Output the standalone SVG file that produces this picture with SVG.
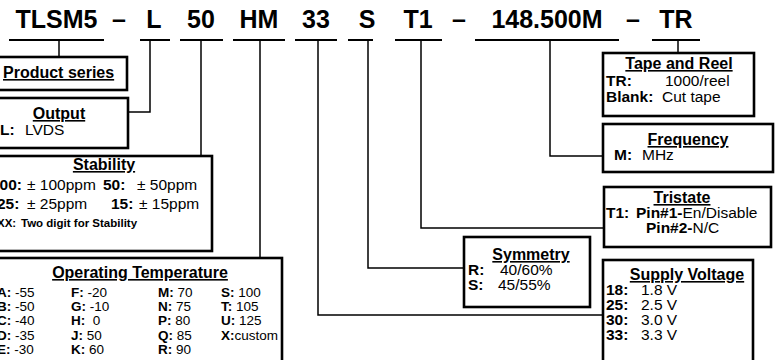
<svg xmlns="http://www.w3.org/2000/svg" width="783" height="360" viewBox="0 0 783 360">
<style>
text{font-family:"Liberation Sans",Arial,sans-serif;fill:#000}
.code{font-size:25px;font-weight:bold}
.ttl{font-size:16px;font-weight:bold;text-decoration:underline}
.b{font-weight:bold}
.body{font-size:15.5px}
.sm{font-size:13.5px}
.box{fill:#fff;stroke:#000;stroke-width:2.6}
.ul{stroke:#000;stroke-width:2;fill:none}
.cn{stroke:#000;stroke-width:1.5;fill:none}
</style>
<rect width="783" height="360" fill="#fff"/>
<g id="code">
<text class="code" x="56.5" y="28" text-anchor="middle">TLSM5</text>
<text class="code" x="119" y="28" text-anchor="middle">–</text>
<text class="code" x="154" y="28" text-anchor="middle">L</text>
<text class="code" x="201" y="28" text-anchor="middle">50</text>
<text class="code" x="259" y="28" text-anchor="middle">HM</text>
<text class="code" x="316" y="28" text-anchor="middle">33</text>
<text class="code" x="367" y="28" text-anchor="middle">S</text>
<text class="code" x="418" y="28" text-anchor="middle">T1</text>
<text class="code" x="459" y="28" text-anchor="middle">–</text>
<text class="code" x="547" y="28" text-anchor="middle">148.500M</text>
<text class="code" x="633" y="28" text-anchor="middle">–</text>
<text class="code" x="676" y="28" text-anchor="middle">TR</text>
<path class="ul" d="M9,40H104M140,40H170M180,40H223M233,40H285M295,40H337M348,40H373M395,40H442M475,40H619M652,40H700"/>
</g>
<g id="connectors">
<path class="cn" d="M59,40V57"/>
<path class="cn" d="M150,40V112H128"/>
<path class="cn" d="M201,40V156"/>
<path class="cn" d="M260,40V258"/>
<path class="cn" d="M318,40V315H603"/>
<path class="cn" d="M368,40V268H464"/>
<path class="cn" d="M421,40V228H604"/>
<path class="cn" d="M550,40V156H603"/>
<path class="cn" d="M678,40V53"/>
</g>
<g id="product-series">
<rect class="box" x="-10" y="57" width="137" height="33"/>
<text class="ttl" x="3" y="78">Product series</text>
</g>
<g id="output">
<rect class="box" x="-10" y="98" width="138" height="50"/>
<text class="ttl" x="59" y="119" text-anchor="middle">Output</text>
<text class="body" y="135"><tspan class="b" x="0">L:</tspan><tspan x="25">LVDS</tspan></text>
</g>
<g id="stability">
<rect class="box" x="-10" y="156" width="222" height="95"/>
<text class="ttl" x="104" y="170" text-anchor="middle">Stability</text>
<text class="body" y="190"><tspan class="b" x="-9">100:</tspan><tspan x="27">± 100ppm</tspan><tspan class="b" x="103">50:</tspan><tspan x="137">± 50ppm</tspan></text>
<text class="body" y="209"><tspan class="b" x="-3">25:</tspan><tspan x="27">± 25ppm</tspan><tspan class="b" x="111">15:</tspan><tspan x="139">± 15ppm</tspan></text>
<text class="b" font-size="11.5" y="227"><tspan x="-3">XX:</tspan><tspan x="21">Two digit for Stability</tspan></text>
</g>
<g id="operating-temperature">
<rect class="box" x="-10" y="258" width="292" height="120"/>
<text class="ttl" x="140" y="278" text-anchor="middle">Operating Temperature</text>
<g class="sm">
<text x="-3" y="297"><tspan class="b">A:</tspan> -55</text>
<text x="-3" y="311"><tspan class="b">B:</tspan> -50</text>
<text x="-3" y="325"><tspan class="b">C:</tspan> -40</text>
<text x="-3" y="340"><tspan class="b">D:</tspan> -35</text>
<text x="-3" y="354"><tspan class="b">E:</tspan> -30</text>
<text x="71" y="297"><tspan class="b">F:</tspan> -20</text>
<text x="71" y="311"><tspan class="b">G:</tspan> -10</text>
<text x="71" y="325" xml:space="preserve"><tspan class="b">H:</tspan>  0</text>
<text x="71" y="340"><tspan class="b">J:</tspan> 50</text>
<text x="71" y="354"><tspan class="b">K:</tspan> 60</text>
<text x="158" y="297"><tspan class="b">M:</tspan> 70</text>
<text x="158" y="311"><tspan class="b">N:</tspan> 75</text>
<text x="158" y="325"><tspan class="b">P:</tspan> 80</text>
<text x="158" y="340"><tspan class="b">Q:</tspan> 85</text>
<text x="158" y="354"><tspan class="b">R:</tspan> 90</text>
<text x="221" y="297"><tspan class="b">S:</tspan> 100</text>
<text x="221" y="311"><tspan class="b">T:</tspan> 105</text>
<text x="221" y="325"><tspan class="b">U:</tspan> 125</text>
<text x="221" y="340"><tspan class="b">X:</tspan>custom</text>
</g>
</g>
<g id="symmetry">
<rect class="box" x="464" y="237" width="126" height="70"/>
<text class="ttl" x="531" y="260" text-anchor="middle">Symmetry</text>
<text class="body" y="275"><tspan class="b" x="468">R:</tspan><tspan x="500">40/60%</tspan></text>
<text class="body" y="290"><tspan class="b" x="468">S:</tspan><tspan x="498">45/55%</tspan></text>
</g>
<g id="tristate">
<rect class="box" x="604" y="187" width="167" height="60"/>
<text class="ttl" x="682" y="203" text-anchor="middle">Tristate</text>
<text class="body" y="218"><tspan class="b" x="606">T1:</tspan><tspan class="b" x="636">Pin#1-</tspan><tspan>En/Disable</tspan></text>
<text class="body" y="233"><tspan class="b" x="646">Pin#2-</tspan><tspan>N/C</tspan></text>
</g>
<g id="supply-voltage">
<rect class="box" x="603" y="260" width="150" height="120"/>
<text class="ttl" x="687" y="280" text-anchor="middle">Supply Voltage</text>
<text class="body" y="295"><tspan class="b" x="606">18:</tspan><tspan x="641">1.8 V</tspan></text>
<text class="body" y="310"><tspan class="b" x="606">25:</tspan><tspan x="641">2.5 V</tspan></text>
<text class="body" y="325"><tspan class="b" x="606">30:</tspan><tspan x="641">3.0 V</tspan></text>
<text class="body" y="340"><tspan class="b" x="606">33:</tspan><tspan x="641">3.3 V</tspan></text>
</g>
<g id="frequency">
<rect class="box" x="603" y="124" width="170" height="48"/>
<text class="ttl" x="688" y="145" text-anchor="middle">Frequency</text>
<text class="body" y="160"><tspan class="b" x="614">M:</tspan><tspan x="642">MHz</tspan></text>
</g>
<g id="tape-and-reel">
<rect class="box" x="603" y="53" width="151" height="63"/>
<text class="ttl" x="679" y="69" text-anchor="middle">Tape and Reel</text>
<text class="body" y="86"><tspan class="b" x="606">TR:</tspan><tspan x="665">1000/reel</tspan></text>
<text class="body" y="102"><tspan class="b" x="606">Blank:</tspan><tspan x="662">Cut tape</tspan></text>
</g>
</svg>
